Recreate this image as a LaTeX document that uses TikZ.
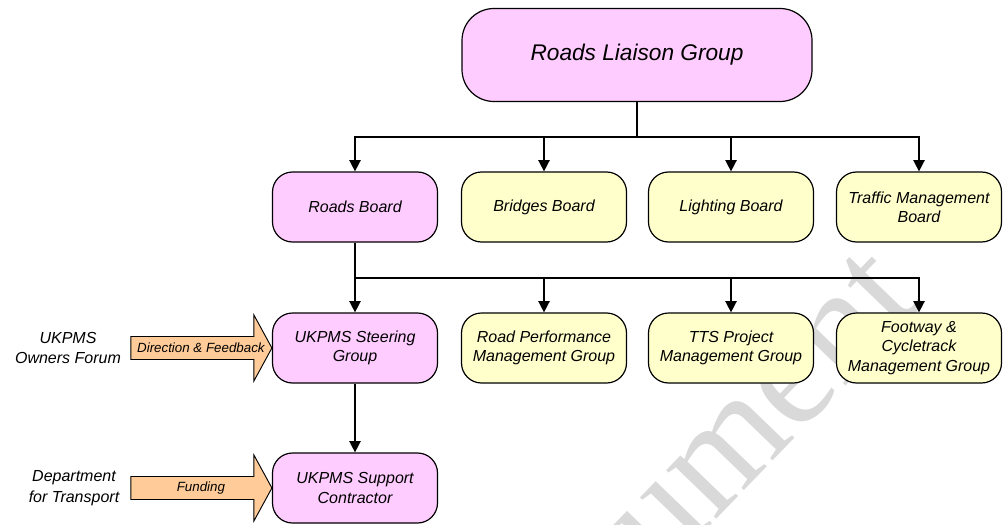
\documentclass[tikz,border=0pt]{standalone}
\usepackage{fontspec}
\setmainfont{Liberation Sans}
\newfontfamily\wmfont{Liberation Serif}
\usepackage{xcolor}
\usepackage{tikz}
\usetikzlibrary{arrows.meta,calc}

\definecolor{grouppink}{HTML}{FFCCFF}
\definecolor{boardyellow}{HTML}{FFFFCC}
\definecolor{feedorange}{HTML}{FFCC99}

\tikzset{
    box/.style={draw, line width=0.9pt, rounded corners=15pt, minimum width=123.75pt, minimum height=52.5pt, inner sep=1pt, align=center, font=\itshape\fontsize{12}{14.5}\selectfont},
    pinkbox/.style={box, fill=grouppink},
    yellowbox/.style={box, fill=boardyellow},
    arr/.style={line width=1.1pt, -{Triangle[width=8.5pt,length=8.5pt]}},
    feed/.style={draw, line width=0.7pt, fill=feedorange},
    feedtext/.style={font=\itshape\fontsize{10}{12}\selectfont},
    side/.style={align=center, font=\itshape\fontsize{12}{15.5}\selectfont},
}

\begin{document}
\begin{tikzpicture}[x=0.75pt, y=-0.75pt]
    \clip (0,0) rectangle (1005,524);

    \node[rotate=46, text=black!15, font=\wmfont\fontsize{114}{114}\selectfont] (wmark) at (670,497) {Document};

    \node[pinkbox, minimum width=262.5pt, minimum height=69.75pt, rounded corners=24pt, font=\itshape\fontsize{17}{20}\selectfont] (rlg) at (637,55) {Roads Liaison Group};

    \node[pinkbox] (roads) at (355,207) {Roads Board};
    \node[yellowbox] (bridges) at (544,207) {Bridges Board};
    \node[yellowbox] (lighting) at (731,207) {Lighting Board};
    \node[yellowbox] (traffic) at (919,207) {Traffic Management\\Board};

    \node[pinkbox] (steering) at (355,348) {UKPMS Steering\\Group};
    \node[yellowbox] (rpm) at (544,348) {Road Performance\\Management Group};
    \node[yellowbox] (tts) at (731,348) {TTS Project\\Management Group};
    \node[yellowbox] (footway) at (919,348) {Footway \&\\Cycletrack\\Management Group};

    \node[pinkbox] (support) at (355,488) {UKPMS Support\\Contractor};

    \coordinate (j1) at (637,137);
    \coordinate (j2) at (355,278);

    \draw[line width=1.1pt] (rlg) -- (j1);
    \foreach \n in {roads,bridges,lighting,traffic}
        \draw[arr] (j1) -| (\n.north);

    \draw[line width=1.1pt] (roads) -- (j2);
    \draw[arr] (j2) -- (steering);
    \foreach \n in {rpm,tts,footway}
        \draw[arr] (j2) -| (\n.north);

    \draw[arr] (steering) -- (support);

    \draw[feed] (steering.west) -- ++(-18,-33) -- ++(0,21.5) -- ++(-123,0) -- ++(0,23) -- ++(123,0) -- ++(0,21.5) -- cycle;
    \draw[feed] (support.west) -- ++(-18,-33) -- ++(0,21.5) -- ++(-123,0) -- ++(0,23) -- ++(123,0) -- ++(0,21.5) -- cycle;
    \node[feedtext] (dirfb) at ($(steering.west)+(-71,0)$) {Direction \& Feedback};
    \node[feedtext] (funding) at ($(support.west)+(-71,0)$) {Funding};

    \node[side] (owners) at (68,348) {UKPMS\\Owners Forum};
    \node[side] (dft) at (74,488) {Department\\for Transport};

\end{tikzpicture}
\end{document}
